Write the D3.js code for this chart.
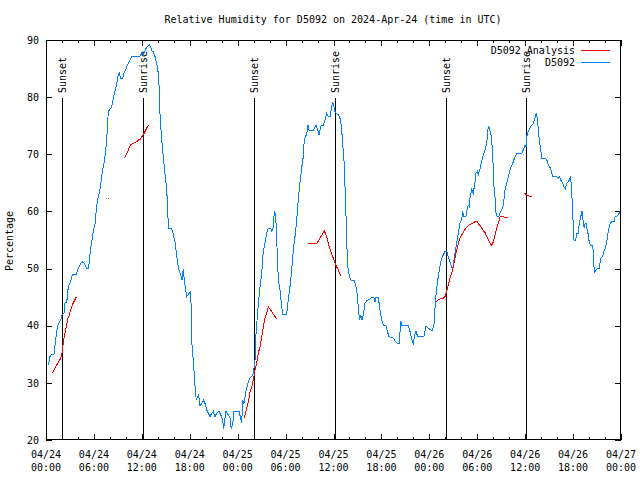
<!DOCTYPE html>
<html>
<head>
<meta charset="utf-8">
<script src="https://cdn.jsdelivr.net/npm/d3@7"></script>
<style>
  html, body { margin: 0; padding: 0; background: #fff; }
  svg { display: block; }
  text { font-family: "DejaVu Sans Mono", "Liberation Mono", monospace; font-size: 10px; fill: #000; }
</style>
</head>
<body>
<svg id="chart" width="640" height="480"></svg>
<script>
// ---- data (hours since 2024-04-24 00:00 UTC, relative humidity %) ----
const titleText = "Relative Humidity for D5092 on 2024-Apr-24 (time in UTC)";
const yLabel = "Percentage";
const yTicks = [20, 30, 40, 50, 60, 70, 80, 90];
const xTickHours = [0, 6, 12, 18, 24, 30, 36, 42, 48, 54, 60, 66, 72];
const xTickDates = ["04/24","04/24","04/24","04/24","04/25","04/25","04/25","04/25","04/26","04/26","04/26","04/26","04/27"];
const xTickTimes = ["00:00","06:00","12:00","18:00","00:00","06:00","12:00","18:00","00:00","06:00","12:00","18:00","00:00"];
const sunHours = [2.05, 12.17, 26.07, 36.15, 50.08, 60.13];
const sunLabels = ["Sunset","Sunrise","Sunset","Sunrise","Sunset","Sunrise"];
const seriesNames = ["D5092 Analysis", "D5092"];
const seriesColors = ["#ff0000", "#0080ff"];

const obsSeries = [
[0.29,33.1],[0.50,34.6],[0.71,35.0],[1.00,35.0],[1.16,37.0],[1.34,39.0],[1.54,40.3],[1.84,41.0],[2.00,41.9],[2.25,42.2],
[2.38,44.0],[2.59,44.0],[2.79,46.8],[3.09,47.7],[3.29,48.9],[3.76,48.9],[4.04,50.0],[4.35,50.9],[4.60,51.2],[4.80,50.9],
[5.10,50.0],[5.35,50.0],[5.42,51.5],[5.60,53.6],[5.76,55.0],[5.92,56.6],[6.14,57.9],[6.35,61.0],[6.55,62.6],[6.76,63.8],
[6.97,66.1],[7.10,67.3],[7.26,68.4],[7.43,70.2],[7.60,72.5],[7.80,77.5],[8.01,77.9],[8.23,78.3],[8.35,79.2],[8.51,80.4],
[8.77,81.8],[8.93,83.0],[9.05,83.9],[9.18,84.2],[9.35,83.3],[9.60,83.3],[9.77,84.2],[10.02,85.0],[10.18,85.6],[10.43,86.2],
[10.61,86.8],[10.77,87.2],[11.77,87.2],[11.98,87.7],[12.18,87.4],[12.31,87.8],[12.52,88.5],[12.68,88.8],[12.94,89.1],[13.11,88.7],
[13.27,88.1],[13.44,87.9],[13.65,87.1],[13.86,85.9],[14.06,84.2],[14.19,81.3],[14.27,77.2],[14.40,74.3],[14.56,71.3],[14.69,69.6],
[14.81,67.8],[14.94,66.1],[15.11,63.8],[15.24,60.8],[15.31,57.1],[15.65,57.0],[15.87,56.5],[16.03,55.3],[16.19,54.4],[16.37,52.1],
[16.53,50.6],[16.65,49.8],[16.87,48.9],[17.03,48.0],[17.19,50.0],[17.32,48.0],[17.49,46.3],[17.62,45.1],[17.78,45.4],[17.94,45.7],
[18.12,46.0],[18.19,42.2],[18.28,36.6],[18.44,34.0],[18.57,31.4],[18.70,28.5],[18.82,27.0],[18.95,27.6],[19.12,27.9],[19.28,26.0],
[19.50,26.3],[19.70,27.0],[19.91,26.4],[20.12,25.3],[20.32,24.7],[20.54,24.1],[20.75,24.7],[20.95,25.0],[21.16,24.1],[21.37,24.7],
[21.66,25.0],[21.88,24.4],[22.13,23.5],[22.25,21.9],[22.38,23.5],[22.54,25.0],[22.83,24.4],[23.04,23.8],[23.20,21.9],[23.38,22.9],
[23.54,25.0],[24.17,25.0],[24.38,23.8],[24.51,23.0],[24.63,27.0],[24.79,26.4],[24.92,27.6],[25.13,29.1],[25.33,30.2],[25.54,30.8],
[25.76,31.1],[25.96,31.7],[26.17,34.0],[26.30,38.7],[26.46,41.6],[26.63,44.5],[26.80,46.8],[27.01,49.2],[27.21,53.0],[27.42,54.4],
[27.64,56.2],[27.84,57.1],[28.14,57.0],[28.26,56.5],[28.46,57.3],[28.59,60.0],[28.76,59.4],[28.89,55.0],[29.09,48.0],[29.30,46.3],
[29.51,43.3],[29.64,42.0],[30.14,42.0],[30.34,44.5],[30.55,46.8],[30.77,49.8],[30.97,53.3],[31.18,55.6],[31.39,58.5],[31.59,62.0],
[31.72,64.0],[31.89,66.1],[32.09,68.4],[32.22,69.6],[32.31,71.9],[32.47,73.1],[32.64,73.4],[32.81,75.1],[32.97,74.1],[33.47,74.1],
[33.81,75.1],[34.02,74.3],[34.18,73.4],[34.40,74.9],[34.72,75.1],[34.94,76.0],[35.15,77.2],[35.35,76.6],[35.56,76.5],[35.78,78.3],
[35.90,79.2],[36.06,78.3],[36.19,77.5],[36.31,77.2],[36.60,76.9],[36.81,76.3],[36.98,75.1],[37.15,71.9],[37.32,68.7],[37.44,64.3],
[37.52,60.3],[37.60,58.5],[37.65,55.0],[37.73,51.8],[37.85,49.5],[38.07,48.3],[38.19,48.0],[38.61,47.9],[38.78,47.0],[38.91,46.3],
[39.03,44.5],[39.16,42.2],[39.28,41.0],[39.41,41.9],[39.57,41.0],[39.73,41.9],[39.94,43.9],[40.16,44.4],[40.48,44.6],[40.78,44.9],
[41.07,44.9],[41.20,44.2],[41.32,45.0],[41.61,45.0],[41.82,42.8],[42.04,41.0],[42.24,40.1],[42.57,40.0],[42.74,39.0],[42.95,38.1],
[43.49,37.8],[43.79,37.2],[43.99,36.9],[44.24,36.9],[44.42,40.9],[44.54,40.1],[45.37,40.1],[45.58,39.0],[45.79,37.6],[45.99,36.9],
[46.12,38.1],[46.33,39.0],[46.54,38.1],[47.33,38.1],[47.58,40.0],[47.87,39.6],[48.30,39.1],[48.42,39.3],[48.59,40.4],[48.71,43.1],
[48.84,45.4],[49.00,47.4],[49.12,48.6],[49.25,49.8],[49.42,51.2],[49.55,51.8],[49.75,52.4],[49.96,53.0],[50.18,53.0],[50.37,52.1],
[50.59,51.2],[50.80,50.3],[50.93,50.0],[51.09,51.5],[51.34,53.8],[51.50,55.0],[51.63,56.2],[51.84,57.9],[52.05,58.6],[52.18,60.0],
[52.34,59.1],[52.59,59.1],[52.75,60.5],[52.88,61.1],[53.01,60.8],[53.09,62.3],[53.31,63.8],[53.51,63.2],[53.72,65.2],[53.84,66.7],
[54.01,67.0],[54.13,66.4],[54.35,67.5],[54.55,68.7],[54.76,69.9],[54.97,70.8],[55.18,71.9],[55.38,74.9],[55.51,74.6],[55.68,73.7],
[55.81,72.5],[55.94,69.6],[56.10,64.3],[56.26,62.0],[56.35,59.7],[56.51,59.1],[56.72,59.1],[56.85,59.7],[57.06,60.3],[57.26,61.1],
[57.48,63.8],[57.69,64.9],[57.89,66.1],[58.10,67.3],[58.44,68.4],[58.73,69.6],[58.94,70.1],[59.57,70.1],[59.77,70.8],[59.98,71.6],
[60.11,71.3],[60.19,73.1],[60.39,74.0],[60.61,74.6],[60.82,75.1],[61.02,75.4],[61.14,76.0],[61.27,76.5],[61.40,77.2],[61.52,76.3],
[61.65,74.3],[61.77,72.5],[61.95,70.8],[62.07,69.3],[62.48,69.3],[62.70,69.1],[62.90,68.1],[63.20,67.5],[63.45,66.1],[63.95,66.1],
[64.15,65.8],[64.28,66.1],[64.45,65.5],[64.70,64.9],[64.86,64.3],[65.03,64.0],[65.20,64.9],[65.53,65.5],[65.70,66.1],[65.83,63.2],
[65.95,60.3],[66.03,56.8],[66.12,55.0],[66.33,55.0],[66.45,56.2],[66.66,56.2],[66.78,57.9],[66.96,59.1],[67.12,60.0],[67.21,59.1],
[67.28,57.9],[67.41,57.1],[67.50,57.9],[67.62,58.0],[67.71,57.1],[67.91,55.9],[68.04,54.4],[68.21,54.1],[68.46,54.1],[68.54,52.7],
[68.62,50.3],[68.71,49.2],[68.87,49.8],[69.16,50.1],[69.28,50.0],[69.46,51.8],[69.71,52.1],[69.87,53.0],[70.04,53.5],[70.29,55.3],
[70.41,56.5],[70.63,57.9],[70.84,58.2],[71.12,58.2],[71.25,59.0],[71.46,59.1],[71.66,59.4],[71.88,60.0]
];

// analysis series; null marks a gap
const anaSeries = [
[0.79,31.7],[1.13,32.6],[1.41,33.3],[1.67,33.9],[1.84,34.3],[2.00,35.2],[2.09,36.3],[2.25,37.8],[2.42,39.0],[2.59,40.1],
[2.75,41.3],[2.92,41.9],[3.09,42.8],[3.26,43.5],[3.42,44.0],[3.63,44.6],[3.79,45.0],
null,
[7.72,62.3],[7.86,62.3],
null,
[9.80,69.3],[10.02,69.9],[10.18,70.3],[10.36,70.9],[10.52,71.5],[10.73,71.8],[10.93,71.9],[11.14,72.1],[11.36,72.2],[11.56,72.5],
[11.77,72.6],[11.98,73.0],[12.18,73.4],[12.40,74.0],[12.61,74.6],[12.81,75.1],
null,
[24.83,23.8],[25.13,25.6],[25.33,26.7],[25.54,28.3],[25.76,29.3],[25.96,30.5],[26.17,32.3],[26.38,33.4],[26.58,35.2],[26.80,36.3],
[27.01,38.1],[27.21,39.8],[27.42,41.3],[27.64,42.3],[27.84,43.3],[28.05,42.9],[28.26,42.5],[28.46,42.0],[28.68,41.6],[28.89,41.2],
null,
[32.85,54.4],[33.90,54.4],[34.31,55.3],[34.85,56.6],[35.15,55.6],[35.35,54.4],[35.56,53.4],[35.78,52.5],[35.98,51.8],[36.19,50.9],
[36.40,50.3],[36.60,49.8],[36.90,48.7],
null,
[48.84,44.2],[49.12,44.5],[49.42,44.7],[49.75,44.8],[49.96,45.1],[50.18,46.0],[50.37,47.1],[50.59,48.3],[50.80,49.2],[51.00,50.3],
[51.21,51.8],[51.43,53.3],[51.63,54.4],[51.84,55.3],[52.05,55.9],[52.25,56.3],[52.46,56.8],[52.68,57.2],[52.88,57.5],[53.09,57.7],
[53.31,57.9],[53.51,58.0],[53.72,58.2],[53.93,58.3],[54.13,57.9],[54.35,57.5],[54.55,57.1],[54.76,56.6],[54.97,56.3],[55.18,55.7],
[55.38,55.1],[55.60,54.5],[55.81,54.0],[56.01,54.7],[56.22,55.9],[56.44,57.1],[56.64,57.9],[56.85,59.0],[57.06,59.1],[57.48,59.0],
[57.89,58.9],
null,
[59.89,63.2],[60.19,62.9],[60.61,62.6],[60.89,62.5]
];

// ---- drawing ----
const svg = d3.select("#chart");
const L = 46, R = 621, T = 40, B = 440;
const x = d3.scaleLinear().domain([0, 72]).range([L, R]);
const y = d3.scaleLinear().domain([20, 90]).range([B, T]);

svg.append("rect").attr("width", 640).attr("height", 480).attr("fill", "#fff");

// title
svg.append("text").attr("x", 333).attr("y", 23).attr("text-anchor", "middle").text(titleText);

// y label
svg.append("text").attr("transform", "translate(13,241) rotate(-90)")
  .attr("text-anchor", "middle").text(yLabel);

function styleAxis(g) {
  g.select(".domain").remove();
  g.selectAll("line").attr("stroke", "#000").attr("shape-rendering", "crispEdges");
  g.selectAll("text").attr("font-family", null).attr("font-size", null);
}

// x axes (bottom & top, major and minor ticks)
const minorX = d3.range(0, 73, 2).filter(h => h % 6 !== 0);
svg.append("g").attr("transform", `translate(0,${B})`)
  .call(d3.axisBottom(x).tickValues(xTickHours).tickSizeInner(-6).tickSizeOuter(0).tickFormat(() => ""))
  .call(styleAxis);
svg.append("g").attr("transform", `translate(0,${B})`)
  .call(d3.axisBottom(x).tickValues(minorX).tickSizeInner(-3).tickSizeOuter(0).tickFormat(() => ""))
  .call(styleAxis);
svg.append("g").attr("transform", `translate(0,${T})`)
  .call(d3.axisTop(x).tickValues(xTickHours).tickSizeInner(-6).tickSizeOuter(0).tickFormat(() => ""))
  .call(styleAxis);
svg.append("g").attr("transform", `translate(0,${T})`)
  .call(d3.axisTop(x).tickValues(minorX).tickSizeInner(-3).tickSizeOuter(0).tickFormat(() => ""))
  .call(styleAxis);

// x tick labels (two lines)
const xl = svg.append("g").selectAll("text").data(xTickHours).join("text")
  .attr("text-anchor", "middle");
xl.append("tspan").attr("x", d => x(d)).attr("y", 458).text((d, i) => xTickDates[i]);
xl.append("tspan").attr("x", d => x(d)).attr("y", 471).text((d, i) => xTickTimes[i]);

// y axes
svg.append("g").attr("transform", `translate(${L},0)`)
  .call(d3.axisLeft(y).tickValues(yTicks).tickSizeInner(-6).tickSizeOuter(0).tickPadding(7).tickFormat(d3.format("d")))
  .call(styleAxis);
svg.append("g").attr("transform", `translate(${R},0)`)
  .call(d3.axisRight(y).tickValues(yTicks).tickSizeInner(-6).tickSizeOuter(0).tickFormat(() => ""))
  .call(styleAxis);

// sunrise / sunset markers
const sun = svg.append("g");
sun.selectAll("line").data(sunHours).join("line")
  .attr("x1", d => Math.round(x(d)) + 0.5).attr("x2", d => Math.round(x(d)) + 0.5)
  .attr("y1", 98).attr("y2", B)
  .attr("stroke", "#000").attr("stroke-width", 1).attr("shape-rendering", "crispEdges");
sun.selectAll("text").data(sunHours).join("text")
  .attr("transform", d => `translate(${Math.round(x(d)) + 4},93) rotate(-90)`)
  .attr("text-anchor", "start")
  .text((d, i) => sunLabels[i]);

// data lines
const line = d3.line().defined(d => d !== null).x(d => x(d[0])).y(d => y(d[1]));
svg.append("path").datum(obsSeries).attr("d", line)
  .attr("fill", "none").attr("stroke", seriesColors[1]).attr("stroke-width", 1)
  .attr("shape-rendering", "crispEdges");
svg.append("path").datum(anaSeries).attr("d", line)
  .attr("fill", "none").attr("stroke", seriesColors[0]).attr("stroke-width", 1)
  .attr("shape-rendering", "crispEdges");

// frame
svg.append("rect").attr("x", L + 0.5).attr("y", T + 0.5).attr("width", R - L - 1).attr("height", B - T - 1)
  .attr("fill", "none").attr("stroke", "#000").attr("stroke-width", 1).attr("shape-rendering", "crispEdges");

// legend
const leg = svg.append("g");
seriesNames.forEach((name, i) => {
  const ly = 50 + i * 12;
  leg.append("text").attr("x", 575).attr("y", ly + 3.5).attr("text-anchor", "end").text(name);
  leg.append("line").attr("x1", 581).attr("x2", 610).attr("y1", ly + 0.5).attr("y2", ly + 0.5)
    .attr("stroke", seriesColors[i]).attr("stroke-width", 1).attr("shape-rendering", "crispEdges");
});
</script>
</body>
</html>
